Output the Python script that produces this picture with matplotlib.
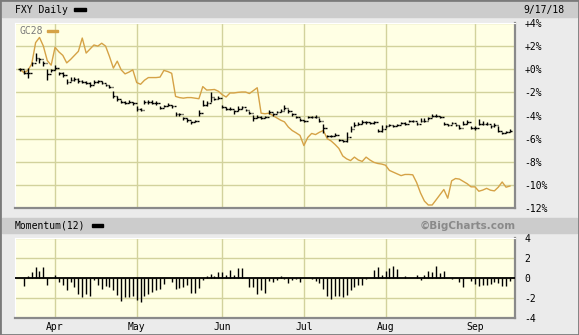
import matplotlib.pyplot as plt
import matplotlib.patches as pat
import numpy as np
import pandas as pd

plt.rcParams['font.family'] = 'DejaVu Sans Mono'

W, H = 579, 335

# trading days shown on the chart (3/19/18 .. 9/17/18)
holidays = ['2018-03-30', '2018-05-28', '2018-07-04', '2018-09-03']
days = pd.bdate_range('2018-03-19', '2018-09-17', freq='C', holidays=holidays)

# FXY daily bars, % change from first day
fxy_close = [0.0, -0.3, -0.35, 0.5, 1.0, 0.85, 0.55, -0.45, -0.1, 0.15,
             -0.35, -0.5, -1.1, -0.9, -0.85, -1.0, -1.1, -1.2, -1.4, -1.1,
             -1.05, -1.2, -1.35, -1.5, -2.35, -2.6, -2.8, -2.9, -2.8, -2.95,
             -3.45, -3.5, -2.8, -2.85, -2.9, -2.95, -3.35, -3.2, -3.05, -3.2,
             -3.9, -3.9, -4.25, -4.4, -4.6, -4.5, -3.75, -3.05, -2.9, -2.4,
             -2.6, -2.45, -3.25, -3.4, -3.45, -3.65, -3.4, -3.3, -3.55, -3.8,
             -4.2, -4.1, -4.2, -4.15, -3.7, -3.9, -3.7, -3.6, -3.35, -3.65,
             -3.9, -4.1, -4.35, -4.45, -4.15, -4.15, -4.1, -4.45, -5.1, -5.8,
             -5.75, -5.65, -6.1, -6.2, -5.9, -5.2, -4.85, -4.7, -4.6, -4.6,
             -4.65, -4.6, -5.3, -5.2, -4.95, -4.85, -4.9, -4.85, -4.65, -4.7,
             -4.5, -4.5, -4.7, -4.45, -4.45, -4.2, -4.0, -4.0, -4.1, -4.7,
             -4.8, -4.65, -4.8, -5.1, -4.7, -4.6, -5.05, -5.1, -4.7, -4.7,
             -4.7, -4.95, -4.85, -5.3, -5.5, -5.45, -5.3]
fxy_high = [0.15, -0.1, 0.1, 0.65, 1.4, 1.0, 0.7, 0.0, 0.05, 0.35,
            -0.2, -0.25, -0.85, -0.7, -0.65, -0.75, -0.9, -1.05, -1.1, -0.95,
            -0.95, -1.05, -1.25, -1.35, -1.85, -2.3, -2.65, -2.75, -2.65, -2.8,
            -3.2, -3.35, -2.65, -2.7, -2.7, -2.75, -3.2, -3.05, -2.9, -3.05,
            -3.7, -3.75, -4.1, -4.2, -4.45, -4.35, -3.5, -2.7, -2.75, -1.95,
            -2.45, -2.3, -3.1, -3.3, -3.3, -3.5, -3.2, -3.2, -3.45, -3.65,
            -3.95, -3.95, -4.05, -4.05, -3.5, -3.8, -3.6, -3.45, -3.1, -3.45,
            -3.8, -4.0, -4.25, -4.35, -4.05, -4.05, -3.95, -4.2, -4.7, -5.7,
            -5.65, -5.55, -6.0, -6.1, -5.4, -4.95, -4.6, -4.55, -4.4, -4.5,
            -4.55, -4.5, -5.15, -4.85, -4.8, -4.7, -4.8, -4.7, -4.55, -4.6,
            -4.4, -4.4, -4.55, -4.25, -4.25, -4.1, -3.85, -3.9, -4.0, -4.55,
            -4.7, -4.55, -4.7, -4.8, -4.45, -4.35, -4.9, -4.95, -4.3, -4.5,
            -4.6, -4.85, -4.65, -4.95, -5.4, -5.35, -5.2]
fxy_low = [-0.15, -0.45, -0.75, 0.25, 0.7, 0.55, 0.25, -0.9, -0.25, -0.1,
           -0.5, -0.7, -1.25, -1.05, -1.0, -1.15, -1.2, -1.3, -1.55, -1.25,
           -1.15, -1.3, -1.45, -1.65, -2.5, -2.75, -2.95, -3.0, -2.95, -3.05,
           -3.6, -3.6, -3.0, -3.0, -3.0, -3.1, -3.45, -3.3, -3.2, -3.35,
           -4.0, -4.0, -4.35, -4.55, -4.7, -4.6, -4.05, -3.2, -3.15, -2.85,
           -2.7, -2.6, -3.35, -3.5, -3.55, -3.85, -3.6, -3.4, -3.65, -3.9,
           -4.45, -4.2, -4.3, -4.25, -3.85, -4.0, -3.8, -3.7, -3.5, -3.8,
           -4.0, -4.2, -4.45, -4.55, -4.25, -4.25, -4.2, -4.6, -5.55, -5.9,
           -5.85, -5.75, -6.2, -6.3, -6.3, -5.45, -5.0, -4.8, -4.75, -4.7,
           -4.75, -4.7, -5.4, -5.4, -5.05, -4.95, -5.0, -4.95, -4.75, -4.8,
           -4.6, -4.6, -4.85, -4.6, -4.6, -4.35, -4.15, -4.1, -4.2, -4.8,
           -4.9, -4.75, -4.9, -5.2, -4.85, -4.75, -5.15, -5.25, -4.85, -4.8,
           -4.8, -5.05, -5.0, -5.45, -5.6, -5.55, -5.4]

# GC28 (gold) comparison line, % change
gold = [0.0, -0.3, -0.1, 0.45, 2.3, 2.75, 2.0, 0.75, 0.35, 1.9,
        1.5, 1.2, 0.55, 0.85, 1.2, 1.55, 2.7, 1.4, 1.75, 2.1,
        2.0, 2.25, 2.0, 1.1, 0.1, 0.7, -0.05, -0.4, -0.25, -0.05,
        -1.15, -1.3, -0.95, -0.72, -0.72, -0.72, -0.68, -0.1, -0.2, -0.35,
        -2.35, -2.45, -2.5, -2.45, -2.45, -2.5, -2.55, -1.5, -1.8, -1.78,
        -1.75, -1.9, -2.2, -2.4, -2.05, -2.05, -2.0, -1.97, -1.97, -2.1,
        -1.85, -1.6, -3.8, -3.85, -3.8, -4.0, -4.2, -4.4, -4.55, -5.0,
        -5.3, -5.5, -5.72, -6.6, -5.9, -5.55, -5.65, -5.45, -5.3, -6.0,
        -6.2, -6.5, -6.85, -7.5, -7.75, -7.9, -7.6, -7.85, -7.97, -7.6,
        -7.85, -8.05, -8.15, -8.2, -8.3, -8.75, -8.9, -9.05, -9.2, -9.1,
        -9.1, -9.13, -9.8, -10.7, -11.4, -11.74, -11.74, -11.3, -10.85, -10.4,
        -11.15, -9.65, -9.45, -9.5, -9.7, -9.9, -10.17, -10.17, -10.55, -10.45,
        -10.3, -10.46, -10.52, -10.2, -9.75, -10.2, -10.1]

# Momentum(12)
momentum = [0.0, -0.77, 0.18, 0.63, 1.12, 0.7, 1.12, -0.7, 0.0, 0.28,
            -0.42, -0.7, -1.23, -0.35, -0.88, -1.58, -1.93, -1.58, -1.75, -0.18,
            -0.7, -1.12, -0.77, -0.88, -1.23, -1.68, -2.28, -1.93, -1.93, -1.75,
            -2.18, -2.39, -1.82, -1.58, -1.4, -1.23, -1.05, -0.63, 0.0, -0.35,
            -1.12, -0.98, -0.88, -0.7, -1.47, -1.47, -0.98, -0.18, 0.18, 0.42,
            0.18, 0.63, 0.63, 0.35, 0.77, 0.35, 0.98, 1.05, 0.0, -0.88,
            -0.88, -1.58, -1.23, -1.47, -0.28, -0.42, -0.18, 0.18, -0.1, -0.53,
            -0.18, -0.1, -0.35, 0.0, 0.0, -0.07, -0.28, -0.53, -1.05, -1.75,
            -2.1, -1.82, -1.75, -1.93, -1.68, -1.23, -0.88, -0.7, -0.7, -0.07,
            0.0, 0.77, 1.12, 0.35, 0.7, 0.98, 1.23, 0.88, 0.0, 0.18,
            0.0, 0.0, 0.35, -0.18, 0.28, 0.7, 0.63, 1.23, 0.53, 0.7,
            0.0, -0.1, 0.0, -0.35, -0.88, 0.0, -0.28, -0.63, -0.77, -0.7,
            -0.7, -0.63, -0.35, -0.53, -0.77, -0.77, -0.3]

pct_ticks = [4, 2, 0, -2, -4, -6, -8, -10, -12]
pct_labels = ['+4%', '+2%', '+0%', '-2%', '-4%', '-6%', '-8%', '-10%', '-12%']
mom_ticks = [4, 2, 0, -2, -4]
mom_labels = ['4', '2', '0', '-2', '-4']

x = np.arange(len(days))
month_idx = [i for i in range(1, len(days)) if days[i].month != days[i - 1].month]
month_lab = [days[i].strftime('%b') for i in month_idx]

BG = '#ebebeb'
BAND = '#cccccc'
PLOT = '#ffffe4'
GRID = '#d2d29c'
GOLD = '#d5a246'


def box(l, t, r, b):
    return [l / W, 1 - b / H, (r - l) / W, (b - t) / H]


def fig_rect(fig, l, t, r, b, color):
    fig.patches.append(pat.Rectangle((l / W, 1 - b / H), (r - l) / W, (b - t) / H,
                                     transform=fig.transFigure, color=color, zorder=0))


def fig_txt(fig, px, py, s, **kw):
    fig.text(px / W, 1 - py / H, s, va='center', **kw)


def style_ax(ax):
    ax.set_facecolor(PLOT)
    ax.spines['top'].set_color('white')
    ax.spines['left'].set_color('white')
    ax.spines['bottom'].set_color('#8a8a8a')
    ax.spines['right'].set_color('#8a8a8a')
    ax.spines['bottom'].set_linewidth(1.6)
    ax.spines['right'].set_linewidth(1.6)
    ax.yaxis.tick_right()
    ax.tick_params(length=0, labelsize=7, pad=7)
    ax.set_xticks(month_idx)
    ax.grid(True, color=GRID, lw=1)
    ax.set_axisbelow(True)
    ax.set_xlim(-1.3, len(days) - 1 + 1.3)


fig = plt.figure(figsize=(W / 100, H / 100), dpi=100, facecolor=BG)

# header bands
fig_rect(fig, 2, 2, 577, 17, BAND)
fig_rect(fig, 2, 218, 577, 233, BAND)

# price panel
ax = fig.add_axes(box(15, 23, 515, 208))
style_ax(ax)
ax.set_ylim(-12, 4)
ax.set_yticks(pct_ticks, pct_labels)
ax.tick_params(axis='x', labelbottom=False)
ax.plot(x, gold, color=GOLD, lw=1.0, zorder=2)
opens = [fxy_close[0]] + fxy_close[:-1]
ax.vlines(x, fxy_low, fxy_high, color='black', lw=1, zorder=3)
ax.hlines(opens, x - 0.45, x, color='black', lw=1, zorder=3)
ax.hlines(fxy_close, x, x + 0.45, color='black', lw=1, zorder=3)

# momentum panel
ax2 = fig.add_axes(box(15, 238, 515, 318))
style_ax(ax2)
ax2.set_ylim(-4, 4)
ax2.set_yticks(mom_ticks, mom_labels)
ax2.set_xticks(month_idx, month_lab)
ax2.tick_params(axis='x', pad=3)
ax2.axhline(0, color='black', lw=1.3, zorder=3)
ax2.vlines(x, 0, momentum, color='black', lw=1, zorder=3)

# titles / legends
fig_txt(fig, 15, 10, 'FXY Daily', fontsize=7)
fig_rect(fig, 74, 8, 86, 11, 'black')
fig_txt(fig, 565, 10, '9/17/18', fontsize=7, ha='right')
fig_txt(fig, 19, 31, 'GC28', fontsize=7, color='#7a7a7a')
fig_rect(fig, 47, 29.5, 58, 31.5, GOLD)
fig_txt(fig, 15, 225.5, 'Momentum(12)', fontsize=7)
fig_rect(fig, 92, 224, 103, 227, 'black')
fig_txt(fig, 516, 225.5, '\u00a9BigCharts.com', fontsize=7.5, ha='right',
        family='DejaVu Sans', weight='bold', color='#8a8a8a')

# outer frame
fig.patches.append(pat.Rectangle((0, 0), 1, 1, transform=fig.transFigure,
                                 fill=False, edgecolor='#7a7a7a', lw=2, zorder=5))

fig.savefig('out.png', dpi=100, facecolor=BG)
